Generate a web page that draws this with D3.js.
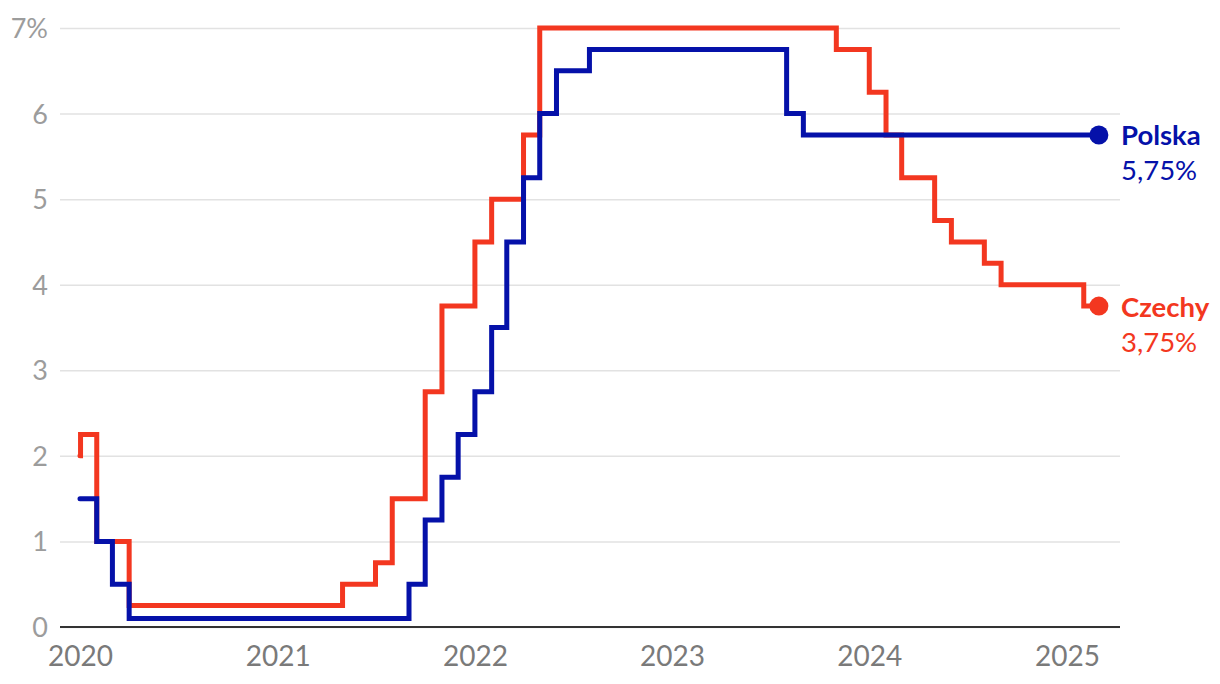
<!DOCTYPE html>
<html><head><meta charset="utf-8">
<script src="https://cdn.jsdelivr.net/npm/d3@7"></script>
<style>
html,body{margin:0;padding:0;background:#fff;}
svg{display:block;font-family:Lato,"Noto Sans",sans-serif;}
</style></head>
<body>
<svg id="chart" width="1220" height="684"></svg>
<script>
const plDates = ["2020-01-01","2020-02-01","2020-03-01","2020-04-01","2021-09-01","2021-10-01","2021-11-01","2021-12-01","2022-01-01","2022-02-01","2022-03-01","2022-04-01","2022-05-01","2022-06-01","2022-08-01","2023-08-01","2023-09-01","2025-03-01"];
const plValues = [1.5,1.0,0.5,0.1,0.5,1.25,1.75,2.25,2.75,3.5,4.5,5.25,6.0,6.5,6.75,6.0,5.75,5.75];
const czDates = ["2020-01-01","2020-01-02","2020-02-01","2020-04-01","2021-05-01","2021-07-01","2021-08-01","2021-10-01","2021-11-01","2022-01-01","2022-02-01","2022-04-01","2022-05-01","2023-11-01","2024-01-01","2024-02-01","2024-03-01","2024-05-01","2024-06-01","2024-08-01","2024-09-01","2025-02-01","2025-03-01"];
const czValues = [2.0,2.25,1.0,0.25,0.5,0.75,1.5,2.75,3.75,4.5,5.0,5.75,7.0,6.75,6.25,5.75,5.25,4.75,4.5,4.25,4.0,3.75,3.75];
const yTicks = [0,1,2,3,4,5,6,7];
const xTickYears = ["2020","2021","2022","2023","2024","2025"];
const seriesNames = ["Czechy","Polska"];
const seriesLabels = ["3,75%","5,75%"];

const parse = d3.timeParse("%Y-%m-%d");
const colors = {Polska:"#0511a9", Czechy:"#f33720"};

const svg = d3.select("#chart");
const x = d3.scaleTime().domain([parse("2020-01-01"), parse("2025-01-01")]).range([80, 1067]);
const y = d3.scaleLinear().domain([0,7]).range([627, 28]);
const gridLeft = 60, gridRight = 1120;

// y grid + labels
const yAxis = d3.axisLeft(y).tickValues(yTicks)
  .tickFormat(d => d === 7 ? "7%" : String(d))
  .tickSize(-(gridRight - gridLeft)).tickPadding(12);
const gy = svg.append("g").attr("transform", `translate(${gridLeft},0)`).call(yAxis);
gy.select(".domain").remove();
gy.selectAll(".tick line").attr("stroke", "#e2e2e2").attr("stroke-width", 1.5);
gy.selectAll(".tick text").attr("fill", "#9c9c9c").attr("font-size", 27).attr("font-family", "Lato").attr("dy", "0.35em");

// baseline
svg.append("line").attr("x1", gridLeft).attr("x2", gridRight)
  .attr("y1", y(0)).attr("y2", y(0)).attr("stroke", "#333").attr("stroke-width", 2);

// x axis labels
const xAxis = d3.axisBottom(x).tickValues(xTickYears.map(s => parse(s + "-01-01")))
  .tickFormat(d3.timeFormat("%Y")).tickSize(0).tickPadding(0);
const gx = svg.append("g").attr("transform", `translate(0,${y(0)})`).call(xAxis);
gx.select(".domain").remove();
gx.selectAll(".tick text").attr("fill", "#7a7a7a").attr("font-size", 28).attr("font-family", "Lato")
  .attr("dy", null).attr("y", 39);

const line = d3.line().x(d => x(d.date)).y(d => y(d.value)).curve(d3.curveStepAfter);

const series = {
  Czechy: czDates.map((d,i) => ({date: parse(d), value: czValues[i]})),
  Polska: plDates.map((d,i) => ({date: parse(d), value: plValues[i]}))
};

seriesNames.forEach((name, i) => {
  const data = series[name];
  svg.append("path").datum(data).attr("d", line)
    .attr("fill", "none").attr("stroke", colors[name]).attr("stroke-width", 5)
    .attr("stroke-linejoin", "miter").attr("stroke-linecap", "round");
  const last = data[data.length - 1];
  svg.append("circle").attr("cx", x(last.date)).attr("cy", y(last.value)).attr("r", 9.5)
    .attr("fill", colors[name]);
  svg.append("text").attr("x", 1121).attr("y", y(last.value) + 10.5)
    .attr("fill", colors[name]).attr("font-size", 27.5).attr("font-weight", 700).attr("font-family", "Lato")
    .text(name);
  svg.append("text").attr("x", 1121).attr("y", y(last.value) + 45.5)
    .attr("fill", colors[name]).attr("font-size", 27.5).attr("font-family", "Lato")
    .text(seriesLabels[i]);
});
</script>
</body></html>
